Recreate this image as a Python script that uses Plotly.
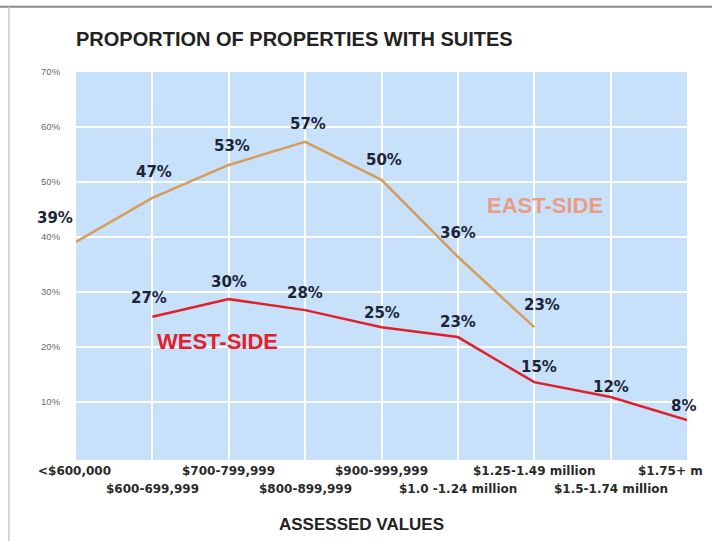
import plotly.graph_objects as go

categories = ["<$600,000", "$600-699,999", "$700-799,999", "$800-899,999",
              "$900-999,999", "$1.0 -1.24 million", "$1.25-1.49 million",
              "$1.5-1.74 million", "$1.75+ m"]

east_idx = [0, 1, 2, 3, 4, 5, 6]
east_vals = [39.1, 47.1, 53.1, 57.3, 50.4, 36.4, 23.6]
east_labels = ["39%", "47%", "53%", "57%", "50%", "36%", "23%"]

west_idx = [1, 2, 3, 4, 5, 6, 7, 8]
west_vals = [25.5, 28.7, 26.7, 23.6, 21.8, 13.6, 10.9, 6.7]
west_labels = ["27%", "30%", "28%", "25%", "23%", "15%", "12%", "8%"]

y_ticks = [10, 20, 30, 40, 50, 60, 70]
y_tick_text = ["10%", "20%", "30%", "40%", "50%", "60%", "70%"]

# label offsets in pixels (style only)
east_off = [(-21, 24), (2, 26), (3, 19), (3, 18), (2, 20), (0, 24), (8, 22)]
west_off = [(-3, 19), (0, 17), (0, 17), (0, 14), (0, 15), (5, 15), (0, 10), (-4, 14)]

SANS = "Liberation Sans, Arial, sans-serif"
WIDE = "DejaVu Sans, Verdana, sans-serif"
LABEL_COLOR = "#1c2438"

fig = go.Figure()
fig.add_trace(go.Scatter(x=east_idx, y=east_vals, mode="lines",
                         line=dict(color="#d69c5a", width=2.5),
                         hoverinfo="skip", showlegend=False))
fig.add_trace(go.Scatter(x=west_idx, y=west_vals, mode="lines",
                         line=dict(color="#e0202a", width=2.5),
                         hoverinfo="skip", showlegend=False))

annotations = []
for x, y, t, (dx, dy) in zip(east_idx, east_vals, east_labels, east_off):
    annotations.append(dict(x=x, y=y, text="<b>" + t + "</b>", showarrow=False,
                            xshift=dx, yshift=dy,
                            font=dict(family=WIDE, size=15, color=LABEL_COLOR),
                            xanchor="center", yanchor="middle"))
for x, y, t, (dx, dy) in zip(west_idx, west_vals, west_labels, west_off):
    annotations.append(dict(x=x, y=y, text="<b>" + t + "</b>", showarrow=False,
                            xshift=dx, yshift=dy,
                            font=dict(family=WIDE, size=15, color=LABEL_COLOR),
                            xanchor="center", yanchor="middle"))

# category tick labels in two staggered rows
for i, c in enumerate(categories):
    row_shift = -11 if i % 2 == 0 else -29
    xs = -17 if i == len(categories) - 1 else (-2 if i == 0 else 0)
    annotations.append(dict(x=i, xref="x", y=0, yref="paper", text="<b>" + c + "</b>",
                            showarrow=False, yshift=row_shift, xshift=xs,
                            xanchor="center", yanchor="middle",
                            font=dict(family=WIDE, size=12, color="#2a2a2a")))

# series names
annotations.append(dict(x=0.768, xref="paper", y=0.657, yref="paper", text="<b>EAST-SIDE</b>",
                        showarrow=False, xanchor="center", yanchor="middle",
                        font=dict(family=SANS, size=22, color="#eb9c84")))
annotations.append(dict(x=0.2316, xref="paper", y=0.3067, yref="paper", text="<b>WEST-SIDE</b>",
                        showarrow=False, xanchor="center", yanchor="middle",
                        font=dict(family=SANS, size=22, color="#e0202a")))
# axis title
annotations.append(dict(x=0.468, xref="paper", y=0, yref="paper", yshift=-64,
                        text="<b>ASSESSED VALUES</b>", showarrow=False,
                        xanchor="center", yanchor="middle",
                        font=dict(family=SANS, size=17, color="#222222")))

shapes = [
    dict(type="line", xref="paper", yref="paper", x0=-0.13, x1=1.05, y0=1.168, y1=1.168,
         line=dict(color="#8a8a8a", width=2)),
    dict(type="line", xref="paper", yref="paper", x0=-0.1097, x1=-0.1097, y0=1.168, y1=-0.22,
         line=dict(color="#c8c8c8", width=1.5)),
]

fig.update_layout(
    width=712, height=541,
    margin=dict(l=76, r=25, t=72, b=81, autoexpand=False),
    paper_bgcolor="white",
    plot_bgcolor="#c7e1fa",
    title=dict(text="<b>PROPORTION OF PROPERTIES WITH SUITES</b>",
               x=76 / 712, xanchor="left", xref="container",
               y=1 - 39 / 541, yanchor="middle", yref="container",
               font=dict(family=SANS, size=20, color="#222222")),
    xaxis=dict(range=[0, 8], tickvals=list(range(len(categories))),
               showticklabels=False, showgrid=True, gridcolor="white", gridwidth=2,
               zeroline=False, showline=False, fixedrange=True),
    yaxis=dict(range=[-0.55, 70], tickvals=y_ticks, ticktext=y_tick_text,
               showgrid=True, gridcolor="white", gridwidth=2, zeroline=False,
               ticks="outside", ticklen=13, tickcolor="rgba(0,0,0,0)",
               tickfont=dict(family=SANS, size=9.5, color="#6a6a6a"), fixedrange=True),
    annotations=annotations,
    shapes=shapes,
    showlegend=False,
)

fig.write_html("out.html", config={"displayModeBar": False},
               post_script="document.body.style.margin='0';")
